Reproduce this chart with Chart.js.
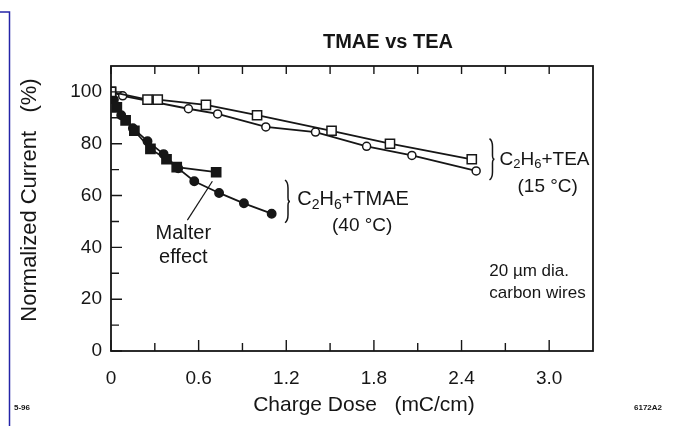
<!DOCTYPE html>
<html><head><meta charset="utf-8">
<script src="https://cdn.jsdelivr.net/npm/chart.js@4.4.1/dist/chart.umd.min.js"></script>
<style>html,body{margin:0;padding:0;background:#fff;}canvas{display:block}</style>
</head><body>
<canvas id="c" width="679" height="426"></canvas>
<script>
// ---- data ----
const teaSquareX = [0, 0.25, 0.32, 0.65, 1.00, 1.51, 1.91, 2.47];
const teaSquareY = [100, 97, 97, 95, 91, 85, 80, 74];
const teaCircleX = [0, 0.08, 0.53, 0.73, 1.06, 1.40, 1.75, 2.06, 2.50];
const teaCircleY = [100, 98.5, 93.5, 91.5, 86.5, 84.5, 79, 75.5, 69.5];
const tmaeCircleX = [0, 0.02, 0.07, 0.15, 0.25, 0.36, 0.46, 0.57, 0.74, 0.91, 1.10];
const tmaeCircleY = [100, 97, 91, 86, 81, 76, 70.5, 65.5, 61, 57, 53];
const tmaeSquareX = [0, 0.04, 0.10, 0.16, 0.27, 0.38, 0.45, 0.72];
const tmaeSquareY = [100, 94, 89, 85, 78, 74, 71, 69];

const xTickValues = [0, 0.6, 1.2, 1.8, 2.4, 3.0];
const xTickLabels = ['0', '0.6', '1.2', '1.8', '2.4', '3.0'];
const xMinorValues = [0.3, 0.9, 1.5, 2.1, 2.7];
const yTickValues = [0, 20, 40, 60, 80, 100];
const yTickLabels = ['0', '20', '40', '60', '80', '100'];
const yMinorValues = [10, 30, 50, 70, 90];

const FONT = '"Liberation Sans", Arial, Helvetica, sans-serif';
const INK = '#161616';

function pts(xs, ys) { return xs.map((x, i) => ({ x: x, y: ys[i] })); }

function drawRich(ctx, parts, x, y, size, align) {
  ctx.save();
  ctx.textBaseline = 'middle';
  ctx.textAlign = 'left';
  let w = 0;
  parts.forEach(p => {
    ctx.font = (p.sub ? Math.round(size * 0.68) : size) + 'px ' + FONT;
    w += ctx.measureText(p.t).width;
  });
  let cx = align === 'center' ? x - w / 2 : x;
  parts.forEach(p => {
    ctx.font = (p.sub ? Math.round(size * 0.68) : size) + 'px ' + FONT;
    ctx.fillText(p.t, cx, p.sub ? y + size * 0.28 : y);
    cx += ctx.measureText(p.t).width;
  });
  ctx.restore();
}

function brace(ctx, x, y1, y2) {
  const m = (y1 + y2) / 2;
  ctx.save();
  ctx.strokeStyle = INK; ctx.lineWidth = 1.5;
  ctx.beginPath();
  ctx.moveTo(x - 2, y1);
  ctx.quadraticCurveTo(x + 1, y1 + 2, x + 1, y1 + 8);
  ctx.lineTo(x + 1, m - 4);
  ctx.quadraticCurveTo(x + 1, m, x + 3, m);
  ctx.quadraticCurveTo(x + 1, m, x + 1, m + 4);
  ctx.lineTo(x + 1, y2 - 8);
  ctx.quadraticCurveTo(x + 1, y2 - 2, x - 2, y2);
  ctx.stroke();
  ctx.restore();
}

const decor = {
  id: 'decor',
  beforeDraw(chart) {
    const ctx = chart.ctx;
    ctx.save();
    ctx.fillStyle = '#fff';
    ctx.fillRect(0, 0, chart.width, chart.height);
    ctx.strokeStyle = '#2424a8'; ctx.lineWidth = 1.5;
    ctx.beginPath(); ctx.moveTo(0, 12); ctx.lineTo(9.5, 12); ctx.lineTo(9.5, 426); ctx.stroke();
    ctx.restore();
  },
  afterDraw(chart) {
    const ctx = chart.ctx, a = chart.chartArea;
    const xs = chart.scales.x, ys = chart.scales.y;
    const X = v => xs.getPixelForValue(v), Y = v => ys.getPixelForValue(v);
    ctx.save();
    ctx.strokeStyle = INK; ctx.lineWidth = 1.8;
    ctx.strokeRect(a.left, a.top, a.right - a.left, a.bottom - a.top);
    ctx.lineWidth = 1.4;
    ctx.beginPath();
    xTickValues.forEach(v => { const p = X(v); ctx.moveTo(p, a.bottom); ctx.lineTo(p, a.bottom - 11); ctx.moveTo(p, a.top); ctx.lineTo(p, a.top + 8); });
    xMinorValues.forEach(v => { const p = X(v); ctx.moveTo(p, a.bottom); ctx.lineTo(p, a.bottom - 8); ctx.moveTo(p, a.top); ctx.lineTo(p, a.top + 8); });
    yTickValues.forEach(v => { const p = Y(v); ctx.moveTo(a.left, p); ctx.lineTo(a.left + 11, p); });
    yMinorValues.forEach(v => { const p = Y(v); ctx.moveTo(a.left, p); ctx.lineTo(a.left + 8, p); });
    ctx.stroke();

    ctx.fillStyle = INK;
    ctx.font = 'bold 20px ' + FONT; ctx.textAlign = 'center'; ctx.textBaseline = 'middle';
    ctx.fillText('TMAE vs TEA', 388, 42);
    ctx.font = '21px ' + FONT;
    ctx.fillText('Charge Dose   (mC/cm)', 364, 405);
    ctx.save(); ctx.translate(30, 200); ctx.rotate(-Math.PI / 2);
    ctx.font = '22px ' + FONT;
    ctx.fillText('Normalized Current   (%)', 0, 0);
    ctx.restore();
    ctx.font = 'bold 8px ' + FONT;
    ctx.textAlign = 'left'; ctx.fillText('5-96', 14, 408);
    ctx.textAlign = 'right'; ctx.fillText('6172A2', 662, 408);

    brace(ctx, X(1.205), Y(66), Y(49.5));
    drawRich(ctx, [{t:'C'},{t:'2',sub:true},{t:'H'},{t:'6',sub:true},{t:'+TMAE'}], X(1.275), Y(58.5), 20, 'left');
    ctx.font = '19px ' + FONT; ctx.textAlign = 'center'; ctx.textBaseline = 'middle';
    ctx.fillText('(40 \u00B0C)', X(1.72), Y(48.5));

    brace(ctx, X(2.605), Y(82), Y(66));
    drawRich(ctx, [{t:'C'},{t:'2',sub:true},{t:'H'},{t:'6',sub:true},{t:'+TEA'}], X(2.66), Y(74), 19, 'left');
    ctx.font = '19px ' + FONT; ctx.textAlign = 'center';
    ctx.fillText('(15 \u00B0C)', X(2.99), Y(63.5));

    ctx.font = '20px ' + FONT;
    ctx.fillText('Malter', X(0.495), Y(45.5));
    ctx.fillText('effect', X(0.495), Y(36));
    ctx.beginPath(); ctx.lineWidth = 1.2;
    ctx.moveTo(X(0.523), Y(50.5)); ctx.lineTo(X(0.694), Y(65.5)); ctx.stroke();

    ctx.font = '17px ' + FONT; ctx.textAlign = 'left';
    ctx.fillText('20 \u00B5m dia.', X(2.59), Y(30.8));
    ctx.fillText('carbon wires', X(2.59), Y(22.3));
    ctx.restore();
  }
};

const lineBase = { showLine: true, borderColor: INK, borderWidth: 1.8, tension: 0, pointBorderColor: INK, pointBorderWidth: 1.5 };

new Chart(document.getElementById('c'), {
  type: 'scatter',
  data: {
    datasets: [
      Object.assign({ label: 'TEA squares', data: pts(teaSquareX, teaSquareY), pointStyle: 'rect', pointRadius: 6.5, pointBackgroundColor: '#fff' }, lineBase),
      Object.assign({ label: 'TEA circles', data: pts(teaCircleX, teaCircleY), pointStyle: 'circle', pointRadius: 4, pointBackgroundColor: '#fff' }, lineBase),
      Object.assign({ label: 'TMAE squares', data: pts(tmaeSquareX, tmaeSquareY), pointStyle: 'rect', pointRadius: 6.5, pointBackgroundColor: INK }, lineBase),
      Object.assign({ label: 'TMAE circles', data: pts(tmaeCircleX, tmaeCircleY), pointStyle: 'circle', pointRadius: 4.2, pointBackgroundColor: INK }, lineBase)
    ]
  },
  options: {
    responsive: false, animation: false, devicePixelRatio: 1,
    layout: { padding: { left: 0, right: 86, top: 66, bottom: 0 } },
    plugins: { legend: { display: false }, tooltip: { enabled: false }, title: { display: false } },
    scales: {
      x: {
        type: 'linear', min: 0, max: 3.3,
        afterBuildTicks: s => { s.ticks = xTickValues.map(v => ({ value: v })); },
        afterFit: s => { s.height = 75; },
        ticks: { callback: (v, i) => xTickLabels[i], font: { family: FONT, size: 19 }, color: INK, padding: 16, maxRotation: 0, autoSkip: false },
        grid: { display: false, drawTicks: false }, border: { display: false }
      },
      y: {
        type: 'linear', min: 0, max: 110,
        afterBuildTicks: s => { s.ticks = yTickValues.map(v => ({ value: v })); },
        afterFit: s => { s.width = 111; },
        ticks: { callback: (v, i) => yTickLabels[i], font: { family: FONT, size: 19 }, color: INK, padding: 9, autoSkip: false },
        grid: { display: false, drawTicks: false }, border: { display: false }
      }
    }
  },
  plugins: [decor]
});
</script>
</body></html>
